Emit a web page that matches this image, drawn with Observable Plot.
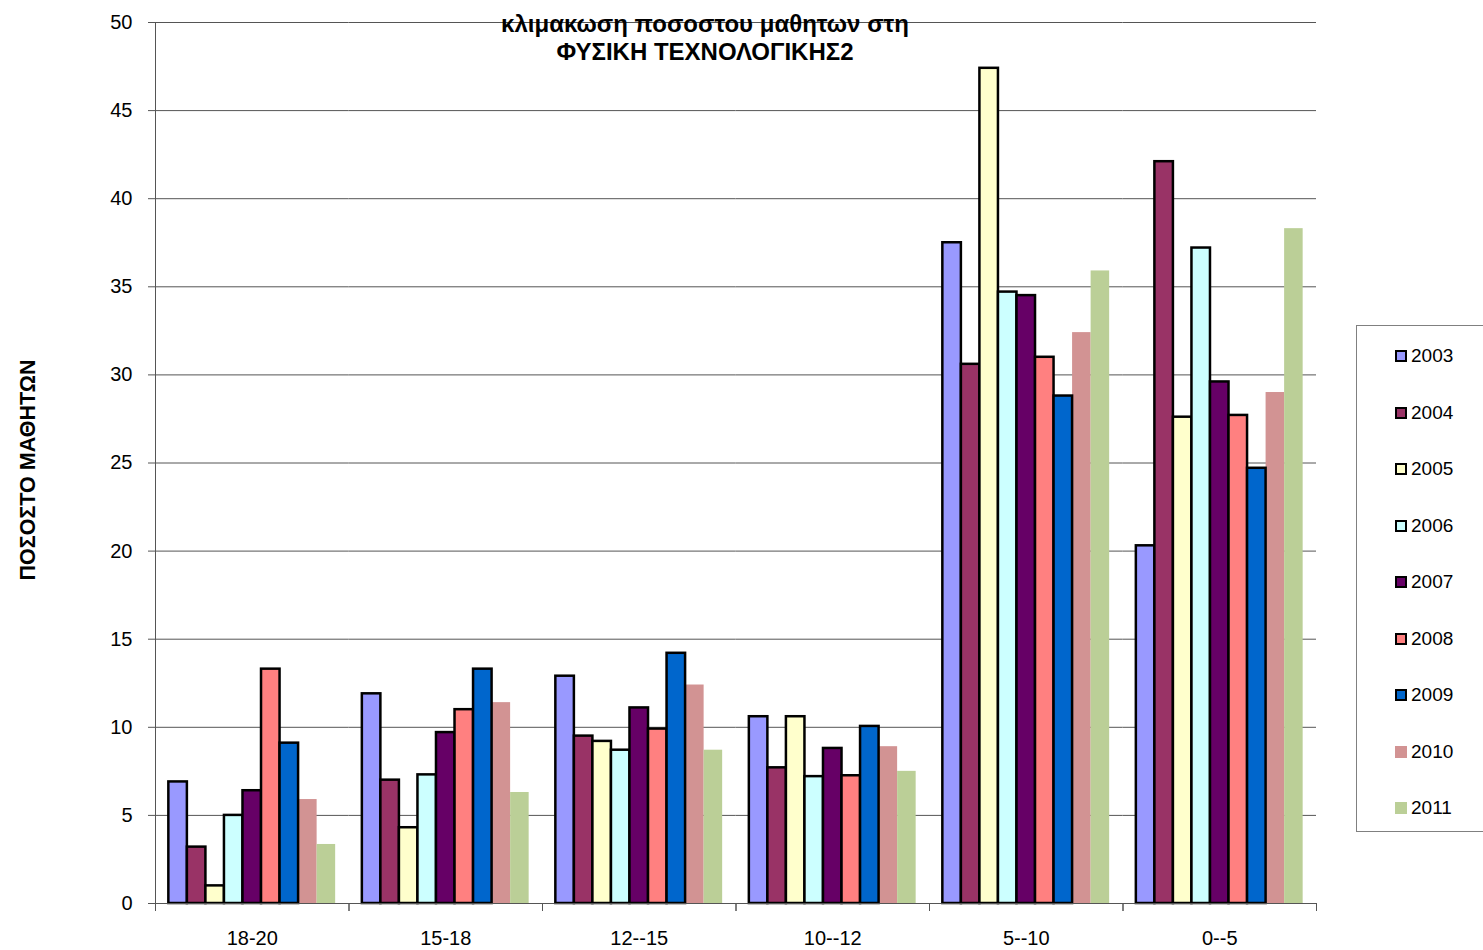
<!DOCTYPE html>
<html>
<head>
<meta charset="utf-8">
<script src="https://cdn.jsdelivr.net/npm/d3@7"></script>
<script src="https://cdn.jsdelivr.net/npm/@observablehq/plot@0.6"></script>
<style>
  html, body { margin: 0; padding: 0; background: #fff; }
  body { width: 1483px; height: 950px; position: relative; overflow: hidden; font-family: "Liberation Sans", Arial, sans-serif; }
  #chart { position: absolute; left: 0; top: 0; }
  #title { position: absolute; left: 405px; width: 600px; top: 10px; text-align: center; font-weight: bold; font-size: 24px; line-height: 28px; color: #000; }
  #ylabel { position: absolute; left: 28px; top: 470px; transform: translate(-50%, -50%) rotate(-90deg); white-space: nowrap; font-weight: bold; font-size: 21.5px; color: #000; }
  #legend { position: absolute; left: 1356px; top: 325px; width: 140px; height: 507px; border: 1px solid #808080; box-sizing: border-box; background: #fff; }
  .item { position: absolute; left: 38px; height: 24px; display: flex; align-items: center; font-size: 19px; color: #000; }
  .sw { width: 8px; height: 8px; margin-right: 4px; }
</style>
</head>
<body>
<div id="chart"></div>
<div id="title">κλιμακωση ποσοστου μαθητων στη<br>ΦΥΣΙΚΗ ΤΕΧΝΟΛΟΓΙΚΗΣ2</div>
<div id="ylabel">ΠΟΣΟΣΤΟ ΜΑΘΗΤΩΝ</div>
<div id="legend"></div>
<script>
const categories = ["18-20", "15-18", "12--15", "10--12", "5--10", "0--5"];
const years = ["2003", "2004", "2005", "2006", "2007", "2008", "2009", "2010", "2011"];
const colors = ["#9999FF", "#993366", "#FFFFCC", "#CCFFFF", "#660066", "#FF8080", "#0066CC", "#D29393", "#BBCF97"];
const outlinedYears = ["2003", "2004", "2005", "2006", "2007", "2008", "2009"];
const yTicks = [0, 5, 10, 15, 20, 25, 30, 35, 40, 45, 50];

// values per year, in category order
const v2003 = [6.9, 11.9, 12.9, 10.6, 37.5, 20.3];
const v2004 = [3.2, 7.0, 9.5, 7.7, 30.6, 42.1];
const v2005 = [1.0, 4.3, 9.2, 10.6, 47.4, 27.6];
const v2006 = [5.0, 7.3, 8.7, 7.2, 34.7, 37.2];
const v2007 = [6.4, 9.7, 11.1, 8.8, 34.5, 29.6];
const v2008 = [13.3, 11.0, 9.9, 7.25, 31.0, 27.7];
const v2009 = [9.1, 13.3, 14.2, 10.05, 28.8, 24.7];
const v2010 = [5.9, 11.4, 12.4, 8.9, 32.4, 29.0];
const v2011 = [3.35, 6.3, 8.7, 7.5, 35.9, 38.3];
const series = [v2003, v2004, v2005, v2006, v2007, v2008, v2009, v2010, v2011];

const data = [];
years.forEach((yr, i) => categories.forEach((c, j) => data.push({cat: c, year: yr, value: series[i][j]})));

const outlined = data.filter(d => outlinedYears.includes(d.year));
const plain = data.filter(d => !outlinedYears.includes(d.year));

const chart = Plot.plot({
  width: 1483,
  height: 950,
  marginLeft: 155,
  marginRight: 167,
  marginTop: 22,
  marginBottom: 47,
  style: {fontFamily: "'Liberation Sans', Arial, sans-serif", background: "transparent", color: "#000"},
  fx: {domain: categories, padding: 0, round: false, axis: null},
  x: {domain: years, paddingInner: 0, paddingOuter: 0.72, round: false, axis: null},
  y: {domain: [0, 50], axis: null},
  color: {domain: years, range: colors},
  marks: [
    Plot.gridY(yTicks, {stroke: "#555", strokeOpacity: 1, strokeWidth: 1}),
    Plot.barY(plain, {fx: "cat", x: "year", y: "value", fill: "year"}),
    Plot.barY(outlined, {fx: "cat", x: "year", y: "value", fill: "year", stroke: "#000", strokeWidth: 2.5}),
    Plot.ruleY([0], {stroke: "#555", strokeWidth: 1.2}),
    Plot.frame({anchor: "left", stroke: "#555", insetTop: 881, insetBottom: -7}),
    Plot.frame({anchor: "right", stroke: "#555", insetTop: 881, insetBottom: -7}),
    Plot.frame({anchor: "left", stroke: "#555", facet: "super", insetBottom: -7}),
    Plot.axisY(yTicks, {anchor: "left", label: null, tickSize: 7, tickPadding: 16, fontSize: 20, stroke: "#555", tickFormat: d => String(d)}),
    Plot.axisFx({anchor: "bottom", tickSize: 0, tickPadding: 27, fontSize: 20, label: null})
  ]
});
document.getElementById("chart").appendChild(chart);

const legend = document.getElementById("legend");
years.forEach((yr, i) => {
  const item = document.createElement("div");
  item.className = "item";
  item.style.top = (18 + i * 56.5) + "px";
  const sw = document.createElement("span");
  sw.className = "sw";
  sw.style.background = colors[i];
  sw.style.border = outlinedYears.includes(yr) ? "2px solid #000" : "2px solid transparent";
  const t = document.createElement("span");
  t.textContent = yr;
  item.appendChild(sw);
  item.appendChild(t);
  legend.appendChild(item);
});
</script>
</body>
</html>
